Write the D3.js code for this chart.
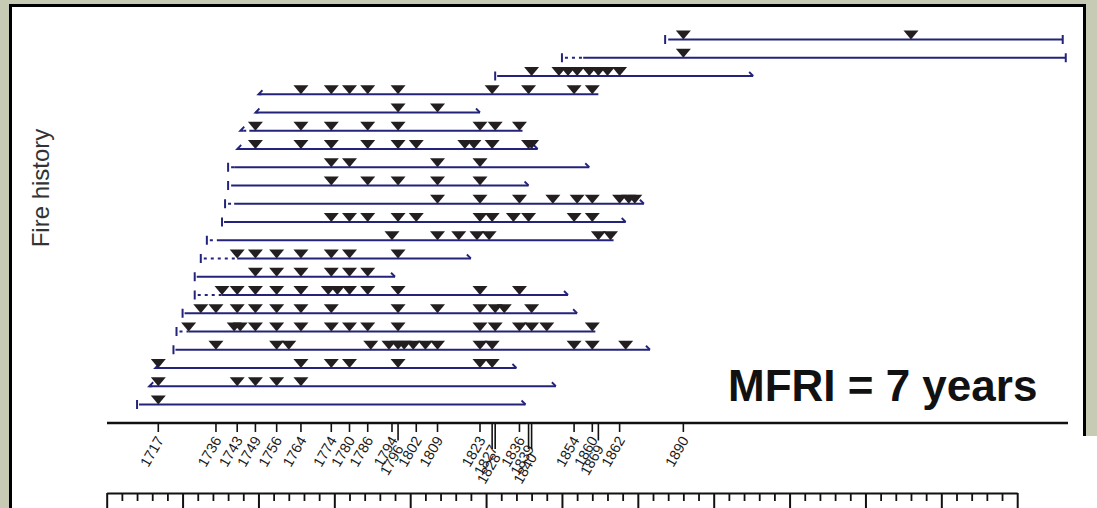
<!DOCTYPE html>
<html><head><meta charset="utf-8">
<script src="https://cdn.jsdelivr.net/npm/d3@7/dist/d3.min.js"></script>
<style>html,body{margin:0;padding:0;background:#c8cbb3;} svg{display:block}</style>
</head><body>
<svg id="c" width="1097" height="508"></svg>
<script>
// ---- data (top row first) ----
const rowStart      = [1884,1850,1828,1750,1749,1744,1743,1740,1740,1739,1738,1733,1731,1729,1729,1725,1723,1722,1716,1714,1710];
const rowStartType  = ["pipe","pipe","pipe","hook","hook","hook","hook","pipe","pipe","pipe","pipe","pipe","pipe","pipe","pipe","pipe","pipe","pipe","hook","hook","pipe"];
const rowRecordFrom = [1885,1857,1828,1750,1749,1747,1743,1742,1741,1742,1738,1737,1743,1729,1738,1725,1727,1722,1716,1714,1710];
const rowEnd        = [2015,2016,1913,1862,1823,1837,1842,1859,1839,1877,1871,1867,1820,1795,1852,1855,1861,1879,1835,1848,1838];
const rowEndType    = ["pipe","pipe","hook","none","hook","none","hook","hook","hook","hook","hook","none","hook","hook","hook","hook","none","hook","hook","hook","hook"];
const rowFires = [
  [1890,1965],
  [1890],
  [1840,1849,1852,1855,1859,1862,1865,1869],
  [1764,1774,1780,1786,1796,1827,1839,1854,1860],
  [1796,1809],
  [1749,1764,1774,1786,1796,1823,1828,1836],
  [1749,1764,1774,1786,1796,1802,1818,1821,1827,1839,1840],
  [1774,1780,1809,1823],
  [1774,1786,1796,1809,1823],
  [1809,1823,1836,1847,1855,1860,1869,1872,1874],
  [1774,1780,1786,1796,1802,1823,1827,1834,1839,1854,1860],
  [1794,1809,1816,1822,1826,1862,1866],
  [1743,1749,1756,1764,1774,1780,1796],
  [1749,1756,1764,1774,1780,1786],
  [1738,1743,1749,1756,1764,1773,1776,1780,1786,1796,1823,1836],
  [1731,1736,1743,1749,1756,1764,1774,1796,1809,1823,1828,1831,1840],
  [1727,1742,1744,1749,1756,1764,1774,1780,1786,1796,1823,1828,1836,1840,1845,1860],
  [1736,1756,1760,1787,1793,1796,1798,1801,1805,1809,1823,1827,1854,1860,1871],
  [1717,1764,1774,1780,1796,1823,1827],
  [1717,1743,1749,1756,1764],
  [1717]
];
const fireYears  = [1717,1736,1743,1749,1756,1764,1774,1780,1786,1794,1796,1802,1809,1823,1827,1828,1836,1839,1840,1854,1860,1862,1869,1890];
const fireLabels = ["1717","1736","1743","1749","1756","1764","1774","1780","1786","1794","1796","1802","1809","1823","1827","1828","1836","1839","1840","1854","1860","1869","1862","1890"];
const timeDomain = [1700, 2000];
const majorStep = 25, minorStep = 5;
const titleText = "Fire history";
const mfriText = "MFRI = 7 years";

// ---- drawing ----
const svg = d3.select("#c");
const W = 1097, H = 508;
const lineColor = "#23237c", triColor = "#231f20", font = "'Liberation Sans', Arial, sans-serif";

// frame
svg.append("rect").attr("x",0).attr("y",0).attr("width",W).attr("height",H).attr("fill","#c8cbb3");
svg.append("rect").attr("x",10.5).attr("y",5.5).attr("width",1074).attr("height",H+10)
  .attr("fill","#fff").attr("stroke","#000").attr("stroke-width",3);
svg.append("rect").attr("x",1082).attr("y",436).attr("width",20).attr("height",80).attr("fill","#fff");

const x = d3.scaleLinear().domain(timeDomain).range([106.7, 1017.2]);
const y = d3.scaleLinear().domain([0, rowStart.length-1]).range([39.5, 404.5]);

const g = svg.append("g");
rowStart.forEach((s, i) => {
  const yy = y(i);
  const rec = rowRecordFrom[i], e = rowEnd[i];
  const xs = x(s), xr = x(rec), xe = x(e);
  if (xr - xs > 4) {
    g.append("line").attr("x1", xs+3).attr("x2", xr).attr("y1", yy).attr("y2", yy)
      .attr("stroke", lineColor).attr("stroke-width", 2).attr("stroke-dasharray", "3,4");
  }
  g.append("line").attr("x1", Math.max(xr, xs+ (rowStartType[i]==="pipe"?2:0))).attr("x2", xe).attr("y1", yy).attr("y2", yy)
    .attr("stroke", lineColor).attr("stroke-width", 2);
  if (rowStartType[i] === "pipe") {
    g.append("line").attr("x1", xs).attr("x2", xs).attr("y1", yy-4.5).attr("y2", yy+4.5)
      .attr("stroke", lineColor).attr("stroke-width", 2);
  } else if (rowStartType[i] === "hook") {
    g.append("path").attr("d", `M${xs+4},${yy-4} L${xs},${yy} L${xs+3},${yy}`)
      .attr("fill","none").attr("stroke", lineColor).attr("stroke-width", 1.8);
  }
  if (rowEndType[i] === "pipe") {
    g.append("line").attr("x1", xe).attr("x2", xe).attr("y1", yy-4.5).attr("y2", yy+4.5)
      .attr("stroke", lineColor).attr("stroke-width", 2);
  } else if (rowEndType[i] === "hook") {
    g.append("path").attr("d", `M${xe-4},${yy-4} L${xe},${yy}`)
      .attr("fill","none").attr("stroke", lineColor).attr("stroke-width", 1.8);
  }
});
rowFires.forEach((fires, i) => {
  const yy = y(i);
  g.selectAll(null).data(fires).enter().append("path")
    .attr("d", d => `M${x(d)-7.5},${yy-9} L${x(d)+7.5},${yy-9} L${x(d)},${yy} Z`)
    .attr("fill", triColor);
});

// composite axis
const axY = 423;
svg.append("line").attr("x1",107).attr("x2",1068).attr("y1",axY).attr("y2",axY)
  .attr("stroke","#111").attr("stroke-width",2.5);
const levels = [];
fireYears.forEach((yr, i) => {
  if (i > 0 && x(yr) - x(fireYears[i-1]) < 13) levels.push(levels[i-1] + 1); else levels.push(0);
});
const groupMax = levels.slice();
for (let i = levels.length-1; i >= 0; i--) {
  if (i < levels.length-1 && levels[i+1] > 0) groupMax[i] = Math.max(groupMax[i], groupMax[i+1]);
}
const ta = svg.append("g");
fireYears.forEach((yr, i) => {
  const xx = x(yr);
  const tickEnd = levels[i] === 0 ? axY + 9 : axY + 9 + groupMax[i]*8.5;
  ta.append("line").attr("x1",xx).attr("x2",xx).attr("y1",axY).attr("y2",tickEnd)
    .attr("stroke","#111").attr("stroke-width",1.6);
  const ly = axY + 17 + levels[i]*8.5;
  ta.append("text").attr("transform", `translate(${xx+6},${ly}) rotate(-60)`)
    .attr("text-anchor","end").attr("font-family", font).attr("font-size", 14.5)
    .attr("fill","#1a1a1a").text(fireLabels[i]);
});

// bottom time axis
const bY = 493;
const majors = d3.range(timeDomain[0], timeDomain[1]+1, majorStep);
const minors = d3.range(timeDomain[0], timeDomain[1]+1, minorStep).filter(v => v % majorStep !== 0);
const bAx = svg.append("g").attr("transform", `translate(0,${bY})`);
bAx.call(d3.axisBottom(x).tickValues(majors).tickSize(20).tickFormat("").tickSizeOuter(0));
bAx.selectAll(".tick line").attr("stroke","#111").attr("stroke-width",2);
bAx.select(".domain").attr("stroke","#111").attr("stroke-width",2.2);
const bAx2 = svg.append("g").attr("transform", `translate(0,${bY})`);
bAx2.call(d3.axisBottom(x).tickValues(minors).tickSize(8).tickFormat("").tickSizeOuter(0));
bAx2.select(".domain").remove();
bAx2.selectAll(".tick line").attr("stroke","#111").attr("stroke-width",1.8);

// labels
svg.append("text").attr("transform","translate(49,188) rotate(-90)")
  .attr("text-anchor","middle").attr("font-family", font).attr("font-size",24)
  .attr("fill","#333").text(titleText);
svg.append("text").attr("x",728).attr("y",401)
  .attr("font-family", font).attr("font-weight","bold").attr("font-size",44)
  .attr("fill","#111").text(mfriText);
</script>
</body></html>
